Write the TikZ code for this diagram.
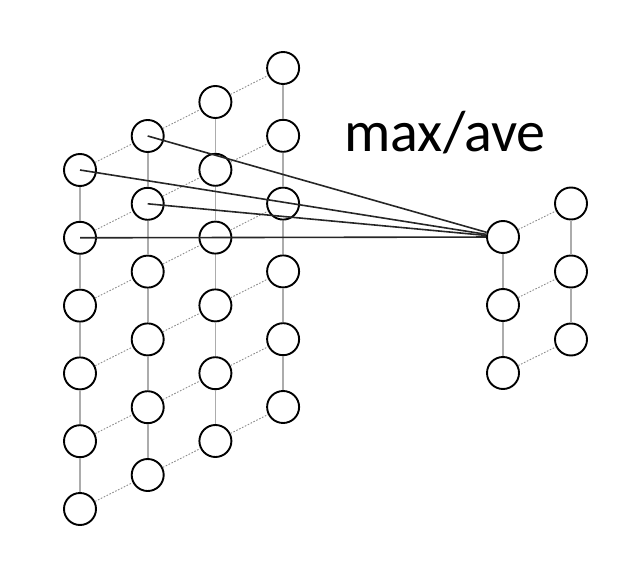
\documentclass[tikz,border=0pt]{standalone}
\usepackage{fontspec}
\newfontfamily\labelfont{Carlito}
\usetikzlibrary{positioning}

\tikzset{
  unit/.style={draw,circle,line width=1.9pt,minimum size=32pt,inner sep=0pt},
  col/.style={gray!65,line width=1.6pt},
  row/.style={gray!90,line width=0.9pt,dash pattern=on 1.6pt off 1.6pt},
  pool/.style={black!85,line width=1.6pt}
}

\begin{document}
\begin{tikzpicture}[x=1pt,y=1pt]
\useasboundingbox (0,0) rectangle (628,560);
% input layer: 4 columns of 6 units
\foreach \i in {0,...,3}
  \foreach \j in {0,...,5}
    \node[unit] (L\i\j) at (80+67.7*\i, 390+34*\i-67.8*\j) {};
% pooled layer: 2 columns of 3 units
\foreach \i in {0,1}
  \foreach \j in {0,1,2}
    \node[unit] (R\i\j) at (503+68*\i, 323+33.5*\i-68*\j) {};
% connections inside the layers
\foreach \i in {0,...,3}
  \foreach \j [count=\k] in {0,...,4}
    \draw[col] (L\i\j) -- (L\i\k);
\foreach \i [count=\k] in {0,1,2}
  \foreach \j in {0,...,5}
    \draw[row] (L\i\j) -- (L\k\j);
\foreach \i in {0,1}
  \foreach \j [count=\k] in {0,1}
    \draw[col] (R\i\j) -- (R\i\k);
\foreach \j in {0,1,2}
  \draw[row] (R0\j) -- (R1\j);
% pooling window
\path[pool]
(L00.center) edge (R00)
(L01.center) edge (R00)
(L10.center) edge (R00)
(L11.center) edge (R00);
\node[anchor=base,font=\labelfont\fontsize{58}{60}\selectfont] (T) at (445,408) {max/ave};
\end{tikzpicture}
\end{document}
